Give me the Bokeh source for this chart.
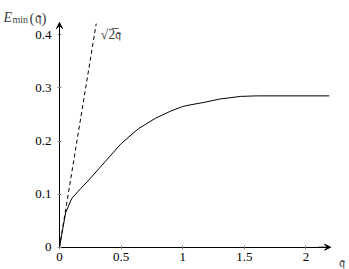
from bokeh.plotting import figure
from bokeh.models import Range1d, FixedTicker, Label, Arrow, VeeHead
from bokeh.embed import file_html
from bokeh.resources import INLINE

# data
q_vals = [0.0, 0.05, 0.10, 0.17, 0.24, 0.37, 0.50, 0.64, 0.78, 0.90, 1.00, 1.06,
          1.18, 1.30, 1.47, 1.60, 1.80, 2.00, 2.19]
e_vals = [0.0, 0.065, 0.092, 0.110, 0.127, 0.161, 0.195, 0.223, 0.243, 0.256, 0.265,
          0.268, 0.273, 0.279, 0.284, 0.285, 0.285, 0.285, 0.285]
sqrt2_q = [0.0, 0.298]
sqrt2_e = [0.0, 0.421]
x_ticks = [0, 0.5, 1, 1.5, 2]
y_ticks = [0, 0.1, 0.2, 0.3, 0.4]
x_axis_end = 2.2
y_axis_end = 0.423

FONT = "Liberation Serif"

p = figure(width=349, height=269, output_backend="svg", toolbar_location=None,
           x_range=Range1d(-0.479, 2.354), y_range=Range1d(-0.042, 0.4646),
           min_border=0)
p.outline_line_color = None
p.grid.visible = False
p.background_fill_color = "white"
p.border_fill_color = "white"

for ax in (p.xaxis[0], p.yaxis[0]):
    ax.fixed_location = 0
    ax.axis_line_color = "black"
    ax.axis_line_width = 1
    ax.major_tick_in = 2
    ax.major_tick_out = 2
    ax.major_tick_line_color = "#888888"
    ax.minor_tick_line_color = None
    ax.major_label_text_font = FONT
    ax.major_label_text_font_size = "13px"
    ax.major_label_text_color = "black"

p.xaxis[0].bounds = (0, x_axis_end)
p.yaxis[0].bounds = (0, y_axis_end)
p.xaxis[0].ticker = FixedTicker(ticks=x_ticks)
p.yaxis[0].ticker = FixedTicker(ticks=y_ticks)
p.xaxis[0].major_label_overrides = {0: "0", 0.5: "0.5", 1: "1", 1.5: "1.5", 2: "2"}
p.yaxis[0].major_label_overrides = {0: "0", 0.1: "0.1", 0.2: "0.2", 0.3: "0.3", 0.4: "0.4"}
p.xaxis[0].major_label_standoff = 4
p.yaxis[0].major_label_standoff = 6

p.line(q_vals, e_vals, line_color="black", line_width=1)
p.line(sqrt2_q, sqrt2_e, line_color="black", line_width=1, line_dash="4 3")

p.add_layout(Arrow(end=VeeHead(size=6, fill_color="black", line_color="black", line_width=1),
                   x_start=x_axis_end - 0.1, y_start=0, x_end=x_axis_end, y_end=0,
                   line_color="black", line_width=1))
p.add_layout(Arrow(end=VeeHead(size=6, fill_color="black", line_color="black", line_width=1),
                   x_start=0, y_start=y_axis_end - 0.04, x_end=0, y_end=y_axis_end,
                   line_color="black", line_width=1))

# axis labels
p.add_layout(Label(x=0, y=y_axis_end, x_offset=-56, y_offset=5, text="E",
                   text_font=FONT, text_font_style="italic", text_font_size="14px",
                   text_baseline="alphabetic", text_align="left"))
p.add_layout(Label(x=0, y=y_axis_end, x_offset=-47, y_offset=3, text="min",
                   text_font=FONT, text_font_size="10px",
                   text_baseline="alphabetic", text_align="left"))
p.add_layout(Label(x=0, y=y_axis_end, x_offset=-30, y_offset=5, text="(𝔮)",
                   text_font=FONT, text_font_size="15px",
                   text_baseline="alphabetic", text_align="left"))
p.add_layout(Label(x=x_axis_end, y=0, x_offset=8, y_offset=-15, text="𝔮",
                   text_font=FONT, text_font_size="14px",
                   text_baseline="alphabetic", text_align="left"))
p.add_layout(Label(x=0, y=y_axis_end, x_offset=41, y_offset=-12, text="√2̅𝔮",
                   text_font=FONT, text_font_size="14px",
                   text_baseline="alphabetic", text_align="left"))

open("out.html", "w").write(file_html(p, INLINE))
